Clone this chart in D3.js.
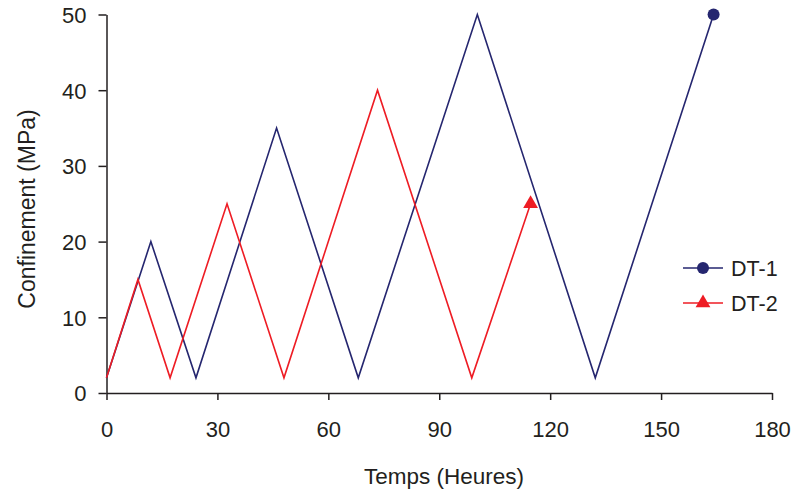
<!DOCTYPE html>
<html>
<head>
<meta charset="utf-8">
<script src="https://cdn.jsdelivr.net/npm/d3@7/dist/d3.min.js"></script>
<style>
  html, body { margin: 0; padding: 0; background: #fff; }
  svg { display: block; font-family: "Liberation Sans", Arial, sans-serif; }
</style>
</head>
<body>
<svg id="chart" width="795" height="492"></svg>
<script>
// ---- Data ----
const dt1Time  = [0, 12, 24.2, 46, 68.1, 100.3, 132.2, 164.2];
const dt1Value = [2, 20, 2, 35, 2, 50, 2, 50];
const dt2Time  = [0, 8.5, 17.2, 32.6, 48, 73.3, 98.8, 114.7];
const dt2Value = [2, 15, 2, 25, 2, 40, 2, 25];
const seriesNames = ["DT-1", "DT-2"];
const xTicks = [0, 30, 60, 90, 120, 150, 180];
const yTicks = [0, 10, 20, 30, 40, 50];
const xTitle = "Temps (Heures)";
const yTitle = "Confinement (MPa)";

// ---- Layout ----
const svg = d3.select("#chart");
const mLeft = 106.5, mRight = 772, mTop = 14.5, mBottom = 393;
const axisColor = "#231f20";
const colors = ["#25266f", "#ee1c24"];

const x = d3.scaleLinear().domain([0, 180]).range([mLeft, mRight]);
const y = d3.scaleLinear().domain([0, 50]).range([mBottom, mTop]);

// Axes
const xAxis = svg.append("g").attr("transform", `translate(0,${mBottom})`)
  .call(d3.axisBottom(x).tickValues(xTicks).tickSize(7).tickSizeOuter(0).tickPadding(21));
const yAxis = svg.append("g").attr("transform", `translate(${mLeft},0)`)
  .call(d3.axisLeft(y).tickValues(yTicks).tickSize(8).tickSizeOuter(0).tickPadding(12));
[xAxis, yAxis].forEach(g => {
  g.select(".domain").attr("stroke", axisColor).attr("stroke-width", 1.5);
  g.selectAll(".tick line").attr("stroke", axisColor).attr("stroke-width", 1.5);
  g.selectAll(".tick text").attr("fill", axisColor).style("font-size", "22px")
    .style("font-family", "'Liberation Sans', Arial, sans-serif");
});
yAxis.selectAll(".tick text").attr("dy", "0.36em");

// Titles
svg.append("text").attr("x", 444).attr("y", 484).attr("text-anchor", "middle")
  .attr("fill", axisColor).style("font-size", "22.5px").text(xTitle);
svg.append("text").attr("transform", `translate(35,209) rotate(-90)`).attr("text-anchor", "middle")
  .attr("fill", axisColor).style("font-size", "23px").text(yTitle);

// Lines
const line = d3.line().x(d => x(d[0])).y(d => y(d[1]));
const series = [
  { name: seriesNames[0], pts: dt1Time.map((t, i) => [t, dt1Value[i]]), color: colors[0] },
  { name: seriesNames[1], pts: dt2Time.map((t, i) => [t, dt2Value[i]]), color: colors[1] }
];
series.forEach(s => {
  svg.append("path").datum(s.pts).attr("d", line)
    .attr("fill", "none").attr("stroke", s.color).attr("stroke-width", 1.6)
    .attr("stroke-linejoin", "miter");
});

// End markers
const circleSym = d3.symbol().type(d3.symbolCircle).size(Math.PI * 36);
const triSym = d3.symbol().type(d3.symbolTriangle).size(95);
const last1 = series[0].pts[series[0].pts.length - 1];
const last2 = series[1].pts[series[1].pts.length - 1];
svg.append("path").attr("d", circleSym).attr("fill", colors[0])
  .attr("transform", `translate(${x(last1[0])},${y(last1[1])})`);
svg.append("path").attr("d", triSym).attr("fill", colors[1])
  .attr("transform", `translate(${x(last2[0])},${y(last2[1])})`);

// Legend
const legend = svg.append("g");
const legY = [268, 303];
series.forEach((s, i) => {
  const g = legend.append("g").attr("transform", `translate(0,${legY[i]})`);
  g.append("line").attr("x1", 683).attr("x2", 723).attr("y1", 0).attr("y2", 0)
    .attr("stroke", s.color).attr("stroke-width", 1.6);
  g.append("path").attr("d", i === 0 ? circleSym : triSym).attr("fill", s.color)
    .attr("transform", `translate(703,0)`);
  g.append("text").attr("x", 731).attr("y", 8)
    .attr("fill", axisColor).style("font-size", "21.5px").text(s.name);
});
</script>
</body>
</html>
